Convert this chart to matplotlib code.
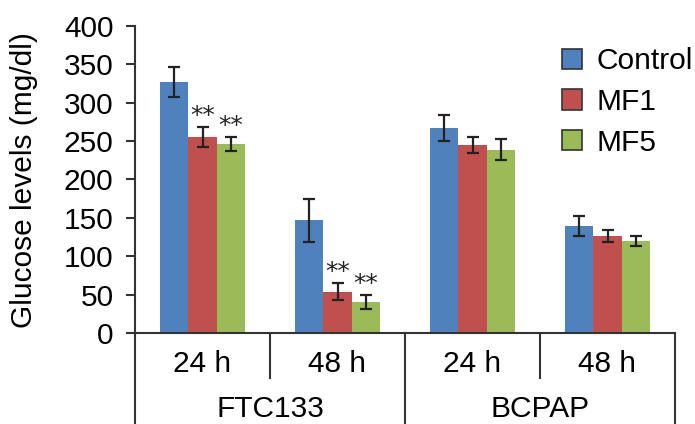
import numpy as np
import matplotlib.pyplot as plt
import matplotlib.transforms as mtransforms
from matplotlib.patches import Patch

plt.rcParams['font.family'] = ['Liberation Sans', 'DejaVu Sans']

# data
times = ['24 h', '48 h', '24 h', '48 h']
cell_lines = ['FTC133', 'BCPAP']
series = ['Control', 'MF1', 'MF5']
control = [327, 147, 267, 139]
control_err = [19, 28, 17, 13]
mf1 = [255, 54, 245, 126]
mf1_err = [13, 11, 11, 8]
mf5 = [246, 40, 239, 120]
mf5_err = [9, 9, 14, 7]
# significance marks (** vs control), per series per group
mf1_sig = [True, True, False, False]
mf5_sig = [True, True, False, False]

colors = ['#4F81BD', '#C0504D', '#9BBB59']
line_col = '#333333'
fs = 21.5

fig = plt.figure(figsize=(6.95, 4.24), dpi=100)
ax = fig.add_axes([135 / 695, 1 - 333 / 424, 540 / 695, 307 / 424])

x = np.arange(len(times))
w = 0.211
vals = [control, mf1, mf5]
errs = [control_err, mf1_err, mf5_err]
sigs = [None, mf1_sig, mf5_sig]
for i in range(3):
    xi = x + (i - 1) * w
    ax.bar(xi, vals[i], w, color=colors[i], edgecolor='none', zorder=2)
    ax.errorbar(xi, vals[i], yerr=errs[i], fmt='none', ecolor='#222222',
                elinewidth=1.6, capsize=4.5, capthick=1.6, zorder=3)
    if sigs[i] is not None:
        for j in range(len(x)):
            if sigs[i][j]:
                ax.text(xi[j], vals[i][j] + errs[i][j] + 6, '**', ha='center',
                        va='baseline', fontsize=18, color='#222222',
                        family=['DejaVu Sans'])

ax.set_xlim(-0.5, 3.5)
ax.set_ylim(0, 400)
ax.set_yticks(np.arange(0, 401, 50))
ax.set_xticks([])
ax.tick_params(axis='y', direction='out', length=6.5, width=1.5, color=line_col,
               labelsize=fs, pad=9)
for s in ['top', 'right']:
    ax.spines[s].set_visible(False)
for s in ['left', 'bottom']:
    ax.spines[s].set_color(line_col)
    ax.spines[s].set_linewidth(1.5)
fig.text(24 / 695, 1 - 180 / 424, 'Glucose levels (mg/dl)', rotation=90,
         ha='center', va='center', fontsize=fs)

# category axis drawn below the plot
trans = mtransforms.blended_transform_factory(ax.transData, ax.transAxes)
y_short = -45 / 307
y_long = -95 / 307
ax.plot([-0.5, -0.5], [0, y_long], transform=trans, color=line_col, lw=1.5,
        clip_on=False)
for xs in [0.5, 2.5]:
    ax.plot([xs, xs], [0, y_short], transform=trans, color=line_col, lw=1.5,
            clip_on=False)
for xs in [1.5, 3.5]:
    ax.plot([xs, xs], [0, y_long], transform=trans, color=line_col, lw=1.5,
            clip_on=False)
for j, t in enumerate(times):
    ax.text(x[j], -39 / 307, t, transform=trans, ha='center', va='baseline',
            fontsize=fs)
for k, c in enumerate(cell_lines):
    ax.text(0.5 + 2 * k, -84 / 307, c, transform=trans, ha='center',
            va='baseline', fontsize=fs)

handles = [Patch(facecolor=colors[i], edgecolor=line_col, linewidth=1.2)
           for i in range(3)]
ax.legend(handles, series, loc='upper left', bbox_to_anchor=(0.79, 0.93),
          frameon=False, fontsize=fs, handlelength=0.67, handleheight=0.67,
          handletextpad=0.5, labelspacing=0.42, borderpad=0, borderaxespad=0)

fig.savefig('out.png', dpi=100)
